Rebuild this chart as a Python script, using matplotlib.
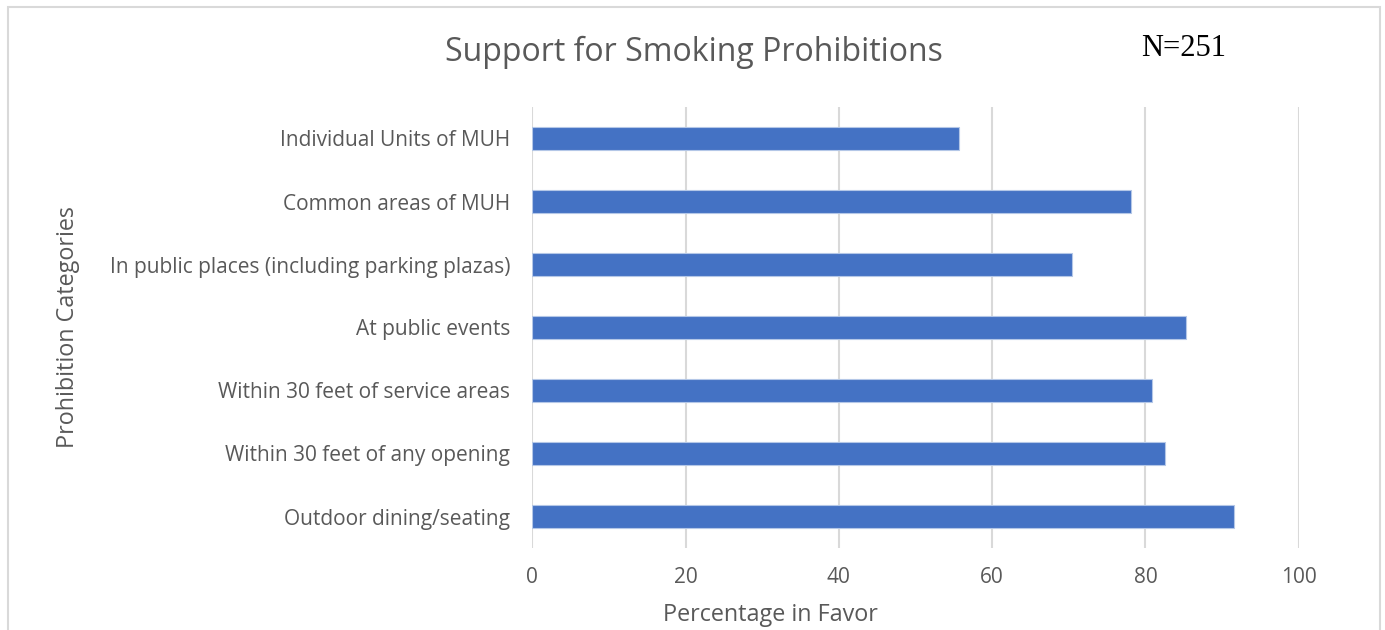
import matplotlib
matplotlib.use("Agg")
import matplotlib.pyplot as plt
from matplotlib.patches import Rectangle

categories = [
    "Outdoor dining/seating",
    "Within 30 feet of any opening",
    "Within 30 feet of service areas",
    "At public events",
    "In public places (including parking plazas)",
    "Common areas of MUH",
    "Individual Units of MUH",
]
values = [91.5, 82.5, 80.8, 85.3, 70.4, 78.1, 55.7]
xticks = [0, 20, 40, 60, 80, 100]

plt.rcParams['font.family'] = ['Open Sans', 'DejaVu Sans']
gray = '#595959'

W, H = 1385, 630
fig = plt.figure(figsize=(W/100, H/100), dpi=100)
ax = fig.add_axes([532.3/W, 1-548/H, 766.4/W, 441/H])

ax.barh(range(len(categories)), values, height=0.35, color='#4472C4',
        edgecolor='#b4c7e7', linewidth=0.8, zorder=3)
ax.set_xlim(0, 100)
ax.set_ylim(-0.5, len(categories)-0.5)
ax.set_xticks(xticks)
ax.set_xticklabels([str(t) for t in xticks])
ax.set_yticks(range(len(categories)))
ax.set_yticklabels(categories)
ax.tick_params(axis='both', length=0, colors=gray, labelsize=15)
ax.tick_params(axis='x', pad=14)
ax.tick_params(axis='y', pad=16)
ax.grid(axis='x', color='#d9d9d9', linewidth=1.5, zorder=0)
for s in ax.spines.values():
    s.set_visible(False)

fig.text(770/W, 1-615/H, "Percentage in Favor", ha='center', va='center',
         fontsize=16.8, color=gray)
fig.text(68/W, 1-327/H, "Prohibition Categories", ha='center', va='center',
         rotation=90, fontsize=16.8, color=gray)
fig.text(694/W, 1-52/H, "Support for Smoking Prohibitions", ha='center', va='center',
         fontsize=23, color=gray)
fig.text(1184/W, 1-48/H, "N=251", ha='center', va='center',
         fontsize=22, color='black', family='Liberation Serif')

fig.patches.append(Rectangle((8/W, -0.05), (1380-8)/W, 1-7/H+0.05,
                             transform=fig.transFigure, fill=False,
                             edgecolor='#d9d9d9', linewidth=1.5))

fig.savefig("out.png", dpi=100)
